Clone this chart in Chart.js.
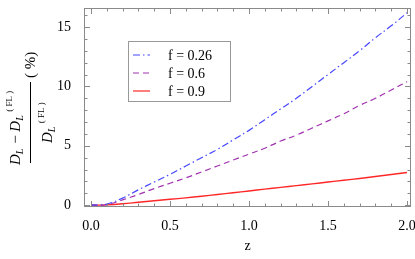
<!DOCTYPE html>
<html>
<head>
<meta charset="utf-8">
<script src="https://cdn.jsdelivr.net/npm/chart.js@4"></script>
<style>
  html, body { margin: 0; padding: 0; background: #fff; }
  #wrap { width: 415px; height: 259px; }
</style>
</head>
<body>
<div id="wrap"><canvas id="dlChart" width="415" height="259"></canvas></div>
<script>
// data
const zValues = [0, 0.1, 0.2, 0.3, 0.4, 0.5, 0.6, 0.7, 0.8, 0.9, 1.0, 1.1, 1.2, 1.3, 1.4, 1.5, 1.6, 1.7, 1.8, 1.9, 2.0];
const f026 = [0, 0.1, 0.6, 1.3, 1.95, 2.6, 3.3, 4.0, 4.7, 5.5, 6.3, 7.2, 8.1, 9.0, 10.0, 11.0, 12.0, 13.0, 14.1, 15.1, 16.2];
const f06 = [0, 0.05, 0.45, 0.9, 1.4, 1.85, 2.3, 2.8, 3.3, 3.8, 4.3, 4.8, 5.4, 5.9, 6.5, 7.1, 7.7, 8.4, 9.0, 9.7, 10.4];
const f09 = [0, 0.03, 0.12, 0.25, 0.38, 0.5, 0.62, 0.76, 0.9, 1.05, 1.2, 1.35, 1.5, 1.65, 1.8, 1.95, 2.1, 2.25, 2.42, 2.58, 2.75];
const seriesLabels = ['f = 0.26', 'f = 0.6', 'f = 0.9'];
const xTicks = [0, 0.5, 1.0, 1.5, 2.0];
const yTicks = [0, 5, 10, 15];
const xMinorStep = 0.1;
const yMinorStep = 1;

const serif = "'Liberation Serif', 'Times New Roman', Tinos, serif";
const frameColor = '#8a8a8a';

function pts(ys) {
    return zValues.map(function(z, i) { return { x: z, y: ys[i] }; });
}

// frame with inward ticks on all four sides (Mathematica style)
const framePlugin = {
    id: 'frame',
    afterDraw: function(chart) {
        const c = chart.ctx, a = chart.chartArea;
        const xs = chart.scales.x, ys = chart.scales.y;
        c.save();
        c.strokeStyle = frameColor;
        c.lineWidth = 1;
        c.strokeRect(a.left + 0.5, a.top + 0.5, a.right - a.left - 1, a.bottom - a.top - 1);
        c.beginPath();
        for (let v = Math.ceil(xs.min / xMinorStep) * xMinorStep; v <= xs.max + 1e-9; v += xMinorStep) {
            const r = Math.round(v * 10) / 10;
            const major = xTicks.some(function(t) { return Math.abs(t - r) < 1e-6; });
            const len = major ? 6 : 3.5;
            const px = Math.round(xs.getPixelForValue(r)) + 0.5;
            c.moveTo(px, a.bottom); c.lineTo(px, a.bottom - len);
            c.moveTo(px, a.top); c.lineTo(px, a.top + len);
        }
        for (let v = Math.ceil(ys.min); v <= ys.max + 1e-9; v += yMinorStep) {
            const major = yTicks.indexOf(v) >= 0;
            const len = major ? 6 : 3.5;
            const py = Math.round(ys.getPixelForValue(v)) + 0.5;
            c.moveTo(a.left, py); c.lineTo(a.left + len, py);
            c.moveTo(a.right, py); c.lineTo(a.right - len, py);
        }
        c.stroke();
        c.restore();
    }
};

// legend box inside the plot
const legendPlugin = {
    id: 'boxLegend',
    afterDraw: function(chart) {
        const c = chart.ctx;
        const bx = 128.5, by = 41.5, bw = 102, bh = 60;
        c.save();
        c.fillStyle = '#fff';
        c.fillRect(bx, by, bw, bh);
        c.strokeStyle = '#999';
        c.lineWidth = 1;
        c.strokeRect(bx, by, bw, bh);
        c.font = '14px ' + serif;
        c.textBaseline = 'middle';
        chart.data.datasets.forEach(function(ds, i) {
            const yy = 55 + i * 18;
            c.strokeStyle = ds.borderColor;
            c.lineWidth = 1.2;
            c.setLineDash(ds.borderDash || []);
            c.beginPath();
            c.moveTo(133, yy); c.lineTo(150, yy);
            c.stroke();
            c.setLineDash([]);
            c.fillStyle = '#000';
            c.fillText(ds.label, 168, yy + 1);
        });
        c.restore();
    }
};

// rotated fraction as y axis title
const yTitlePlugin = {
    id: 'yTitle',
    afterDraw: function(chart) {
        const c = chart.ctx;
        c.save();
        c.rotate(-Math.PI / 2);
        c.fillStyle = '#000';
        c.strokeStyle = '#000';
        c.textBaseline = 'alphabetic';
        const big = 'italic 15px ' + serif, sub = 'italic 10px ' + serif, sup = '9px ' + serif, reg = '15px ' + serif;
        function piece(txt, font, x, y) {
            c.font = font;
            c.fillText(txt, x, y);
            return x + c.measureText(txt).width;
        }
        // numerator, baseline at screen x = 20
        let x = -165, y = 20;
        x = piece('D', big, x, y);
        x = piece('L', sub, x, y + 3);
        x = piece(' \u2212 ', reg, x + 1, y);
        x = piece('D', big, x, y);
        piece('L', sub, x, y + 3);
        piece('( FL )', sup, x + 9, y - 8);
        // fraction bar
        c.lineWidth = 1;
        c.beginPath();
        c.moveTo(-163, 30.5); c.lineTo(-82, 30.5);
        c.stroke();
        // denominator
        x = -143; y = 52;
        x = piece('D', big, x, y);
        piece('L', sub, x, y + 3);
        piece('( FL )', sup, x + 9, y - 8);
        // percent
        piece('( %)', reg, -78, 35);
        c.restore();
    }
};

new Chart(document.getElementById('dlChart'), {
    type: 'line',
    data: {
        datasets: [
            { label: seriesLabels[0], data: pts(f026), borderColor: 'rgb(70,70,255)', borderDash: [7, 3, 1.5, 3] },
            { label: seriesLabels[1], data: pts(f06), borderColor: 'rgb(160,50,175)', borderDash: [6, 4] },
            { label: seriesLabels[2], data: pts(f09), borderColor: 'rgb(255,40,40)', borderWidth: 1.4 }
        ].map(function(d) {
            return Object.assign({ borderWidth: 1.2, pointRadius: 0, tension: 0.4, fill: false }, d);
        })
    },
    options: {
        responsive: false,
        animation: false,
        layout: { padding: { left: 0, right: 4, top: 8, bottom: 0 } },
        plugins: { legend: { display: false }, tooltip: { enabled: false } },
        scales: {
            x: {
                type: 'linear',
                min: -0.044, max: 2.025,
                afterBuildTicks: function(s) { s.ticks = xTicks.map(function(v) { return { value: v }; }); },
                afterFit: function(s) { s.height = 52; s.paddingLeft = 0; s.paddingRight = 0; },
                grid: { display: false },
                border: { display: false },
                ticks: {
                    color: '#000', padding: 3,
                    font: { family: serif, size: 14 },
                    callback: function(v) { return Number(v).toFixed(1); }
                },
                title: { display: true, text: 'z', color: '#000', font: { family: serif, size: 14 }, padding: { top: 12 } }
            },
            y: {
                min: -0.15, max: 16.6,
                afterBuildTicks: function(s) { s.ticks = yTicks.map(function(v) { return { value: v }; }); },
                afterFit: function(s) { s.width = 84; s.paddingTop = 0; s.paddingBottom = 0; },
                grid: { display: false },
                border: { display: false },
                ticks: {
                    color: '#000', padding: 5,
                    font: { family: serif, size: 14 },
                    callback: function(v) { return String(v); }
                }
            }
        }
    },
    plugins: [framePlugin, legendPlugin, yTitlePlugin]
});
</script>
</body>
</html>
